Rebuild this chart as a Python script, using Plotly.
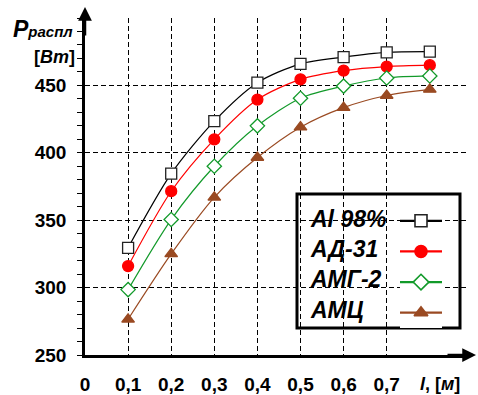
import plotly.graph_objects as go

# ---- data ----
lengths = [0.1, 0.2, 0.3, 0.4, 0.5, 0.6, 0.7, 0.8]
al98 = [329.5, 384.5, 423.5, 452, 466, 471, 474.5, 475]
ad31 = [316, 371.5, 410, 439.5, 454.5, 461, 464, 465]
amg2 = [298.5, 350.5, 390, 420, 440.5, 449.5, 455.5, 457]
amc = [276.5, 325, 367, 396.5, 419, 433.5, 442.5, 447]
series_names = ["Al 98%", "АД-31", "АМГ-2", "АМЦ"]
x_tickvals = [0, 0.1, 0.2, 0.3, 0.4, 0.5, 0.6, 0.7]
x_ticktext = ["0", "0,1", "0,2", "0,3", "0,4", "0,5", "0,6", "0,7"]
y_tickvals = [250, 300, 350, 400, 450]

# ---- layout geometry (pixels) ----
W, H = 478, 395
ML, MR, MT, MB = 85, 10, 18, 40
PW = W - ML - MR
PH = H - MT - MB


def px(xp):
    return (xp - ML) / PW


def py(yp):
    return (H - MB - yp) / PH


FONT = "Liberation Sans, Arial, sans-serif"
styles = [
    dict(color="#000000", symbol="square", fill="#ffffff", lc="#222222", size=11),
    dict(color="#ff0000", symbol="circle", fill="#ff0000", lc="#ff0000", size=11),
    dict(color="#129a2a", symbol="diamond", fill="#ffffff", lc="#129a2a", size=11),
    dict(color="#9a4a22", symbol="triangle-up", fill="#9a4a22", lc="#9a4a22", size=11),
]
values = [al98, ad31, amg2, amc]

fig = go.Figure()
for name, vals, st in zip(series_names, values, styles):
    fig.add_trace(go.Scatter(
        x=lengths, y=vals, mode="lines+markers", name=name,
        line=dict(color=st["color"], width=1.2, shape="spline", smoothing=0.8),
        marker=dict(symbol=st["symbol"], size=st["size"], color=st["fill"],
                    line=dict(color=st["lc"], width=1.3)),
        showlegend=False, cliponaxis=False,
    ))

# legend samples on a hidden helper axis
for k, (name, st) in enumerate(zip(series_names, styles), start=1):
    fig.add_trace(go.Scatter(
        x=[0, 1], y=[k, k], mode="lines", xaxis="x2", yaxis="y2",
        line=dict(color=st["color"], width=2.2), showlegend=False, hoverinfo="skip"))
    fig.add_trace(go.Scatter(
        x=[0.5], y=[k], mode="markers", xaxis="x2", yaxis="y2",
        marker=dict(symbol=st["symbol"], size=st["size"] + 1, color=st["fill"],
                    line=dict(color=st["lc"], width=1.6)),
        showlegend=False, hoverinfo="skip"))

grid = dict(gridcolor="#000000", gridwidth=1.2, griddash="5px,3px")

fig.update_layout(
    width=W, height=H,
    margin=dict(l=ML, r=MR, t=MT, b=MB, autoexpand=False),
    paper_bgcolor="white", plot_bgcolor="white",
    font=dict(family=FONT, color="#000000"),
    xaxis=dict(
        range=[0, PW / 431.0], tickvals=x_tickvals, ticktext=x_ticktext,
        showline=True, linecolor="#000000", linewidth=2.5,
        showgrid=True, **grid, zeroline=False, ticks="",
        tickfont=dict(family=FONT, size=19, weight="bold"),
        ticklabelstandoff=10, automargin=False,
    ),
    yaxis=dict(
        range=[250, 500], tickvals=y_tickvals,
        showline=True, linecolor="#000000", linewidth=2.5,
        showgrid=True, **grid, zeroline=False,
        ticks="outside", ticklen=5, tickwidth=1.3, tickcolor="#000000",
        minor=dict(ticks="outside", dtick=10, tick0=250, ticklen=5,
                   tickwidth=1.3, tickcolor="#000000", showgrid=False),
        tickfont=dict(family=FONT, size=19, weight="bold"),
        ticklabelstandoff=7, automargin=False,
    ),
    xaxis2=dict(domain=[px(400), px(442)], range=[0, 1], visible=False,
                anchor="y2", fixedrange=True),
    yaxis2=dict(domain=[py(328), py(205.5)], range=[4.5, 0.5], visible=False,
                anchor="x2", fixedrange=True),
    showlegend=False,
)

# legend background/padding and frame
fig.add_shape(type="rect", xref="paper", yref="paper",
              x0=px(287), x1=px(470), y0=py(339), y1=py(186),
              fillcolor="white", line=dict(width=0), layer="between")
fig.add_shape(type="rect", xref="paper", yref="paper",
              x0=px(297), x1=px(460), y0=py(328), y1=py(194),
              fillcolor="white", line=dict(color="#000000", width=3), layer="between")

legend_y = [221, 251, 281, 312]
for name, ypix in zip(series_names, legend_y):
    fig.add_annotation(xref="paper", yref="paper", x=px(308), y=py(ypix - 2),
                       text=name, showarrow=False, xanchor="left", yanchor="middle",
                       font=dict(family=FONT, size=23, weight="bold", style="italic"))

# axis arrows
fig.add_annotation(xref="x", yref="paper", x=0, y=py(7), ax=0, ay=30,
                   showarrow=True, arrowhead=2, arrowsize=1.1, arrowwidth=2.5,
                   arrowcolor="#000000", text="")
fig.add_annotation(xref="paper", yref="paper", x=px(476), y=0, ax=-30, ay=0,
                   showarrow=True, arrowhead=2, arrowsize=1.1, arrowwidth=2.5,
                   arrowcolor="#000000", text="")

# axis titles
fig.add_annotation(xref="paper", yref="paper", x=px(11), y=py(29),
                   text="P<span style='font-size:15px'>распл</span>",
                   showarrow=False, xanchor="left", yanchor="middle",
                   font=dict(family=FONT, size=23, weight="bold", style="italic"))
fig.add_annotation(xref="paper", yref="paper", x=px(54), y=py(57),
                   text="[<i>Вт</i>]", showarrow=False, xanchor="center", yanchor="middle",
                   font=dict(family=FONT, size=18, weight="bold"))
fig.add_annotation(xref="paper", yref="paper", x=px(440), y=py(384),
                   text="<i>l</i>, [<i>м</i>]", showarrow=False, xanchor="center", yanchor="middle",
                   font=dict(family=FONT, size=18, weight="bold"))

fig.write_html("out.html")
